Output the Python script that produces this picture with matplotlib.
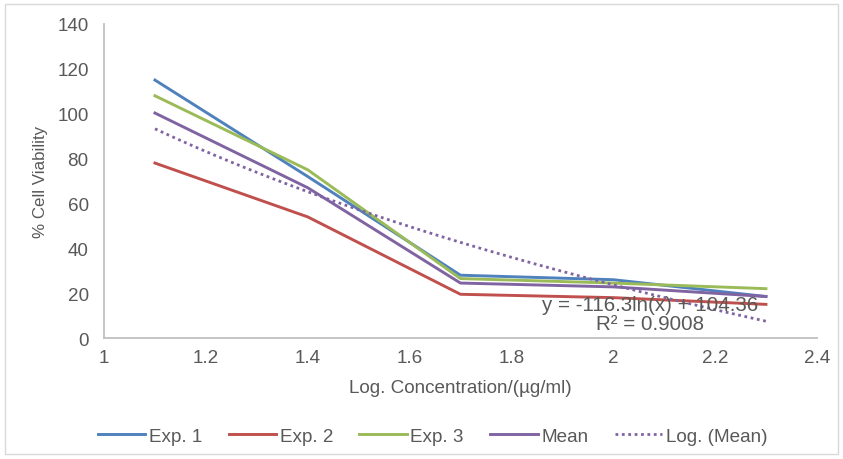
"""
Cell viability vs log concentration, with log trendline on the mean
"""
import matplotlib.pyplot as plt
import matplotlib.patches as patches
import numpy as np

plt.rcParams['font.family'] = ['Liberation Sans', 'DejaVu Sans']

# data
log_conc = [1.1, 1.4, 1.7, 2.0, 2.3]
exp1 = [115.0, 72.0, 28.0, 26.0, 18.5]
exp2 = [78.0, 54.0, 19.5, 18.0, 15.0]
exp3 = [108.0, 75.0, 26.5, 24.5, 22.0]
mean = [100.3, 67.0, 24.5, 22.8, 18.5]

# trendline as printed on the chart
trend_slope = -116.3
trend_intercept = 104.36
trend_label = 'y = -116.3ln(x) + 104.36\nR² = 0.9008'

grey_text = '#595959'
axis_grey = '#BFBFBF'
fs = 13.6

fig = plt.figure(figsize=(8.43, 4.6), dpi=100)
ax = fig.add_axes([0.1234, 0.263, 0.8456, 0.6827])

ax.plot(log_conc, exp1, color='#4F81BD', lw=2.1, label='Exp. 1')
ax.plot(log_conc, exp2, color='#C0504D', lw=2.1, label='Exp. 2')
ax.plot(log_conc, exp3, color='#9BBB59', lw=2.1, label='Exp. 3')
ax.plot(log_conc, mean, color='#8064A2', lw=2.1, label='Mean')

xs = np.linspace(log_conc[0], log_conc[-1], 100)
ax.plot(xs, trend_slope * np.log(xs) + trend_intercept, color='#8064A2',
        lw=2.0, linestyle=(0, (1, 1.3)), label='Log. (Mean)')

ax.text(2.072, 10.5, trend_label, ha='center', va='center', fontsize=14.8,
        color=grey_text, linespacing=1.0)

ax.set_xlim(1, 2.4)
ax.set_ylim(0, 140)
ax.set_xticks(np.arange(1, 2.41, 0.2))
ax.set_xticklabels(['1', '1.2', '1.4', '1.6', '1.8', '2', '2.2', '2.4'])
ax.set_yticks(range(0, 141, 20))
ax.tick_params(length=0, labelsize=fs, colors=grey_text)
ax.tick_params(axis='x', pad=8)
ax.tick_params(axis='y', pad=11)

for side in ['top', 'right']:
    ax.spines[side].set_visible(False)
for side in ['left', 'bottom']:
    ax.spines[side].set_color(axis_grey)
    ax.spines[side].set_linewidth(1.3)

ax.set_xlabel('Log. Concentration/(µg/ml)', fontsize=fs, color=grey_text, labelpad=9)
ax.set_ylabel('% Cell Viability', fontsize=12.2, color=grey_text, labelpad=7)

ax.legend(loc='center', bbox_to_anchor=(0.461, -0.312), ncol=5, frameon=False,
          fontsize=fs, labelcolor=grey_text, handlelength=2.5, handletextpad=0.2,
          columnspacing=1.4)

# light border around the chart area
fig.patches.append(patches.Rectangle((0.006, 0.01), 0.988, 0.98, transform=fig.transFigure,
                                     fill=False, edgecolor='#D9D9D9', lw=1))

plt.savefig('out.png', dpi=100)
plt.close()
